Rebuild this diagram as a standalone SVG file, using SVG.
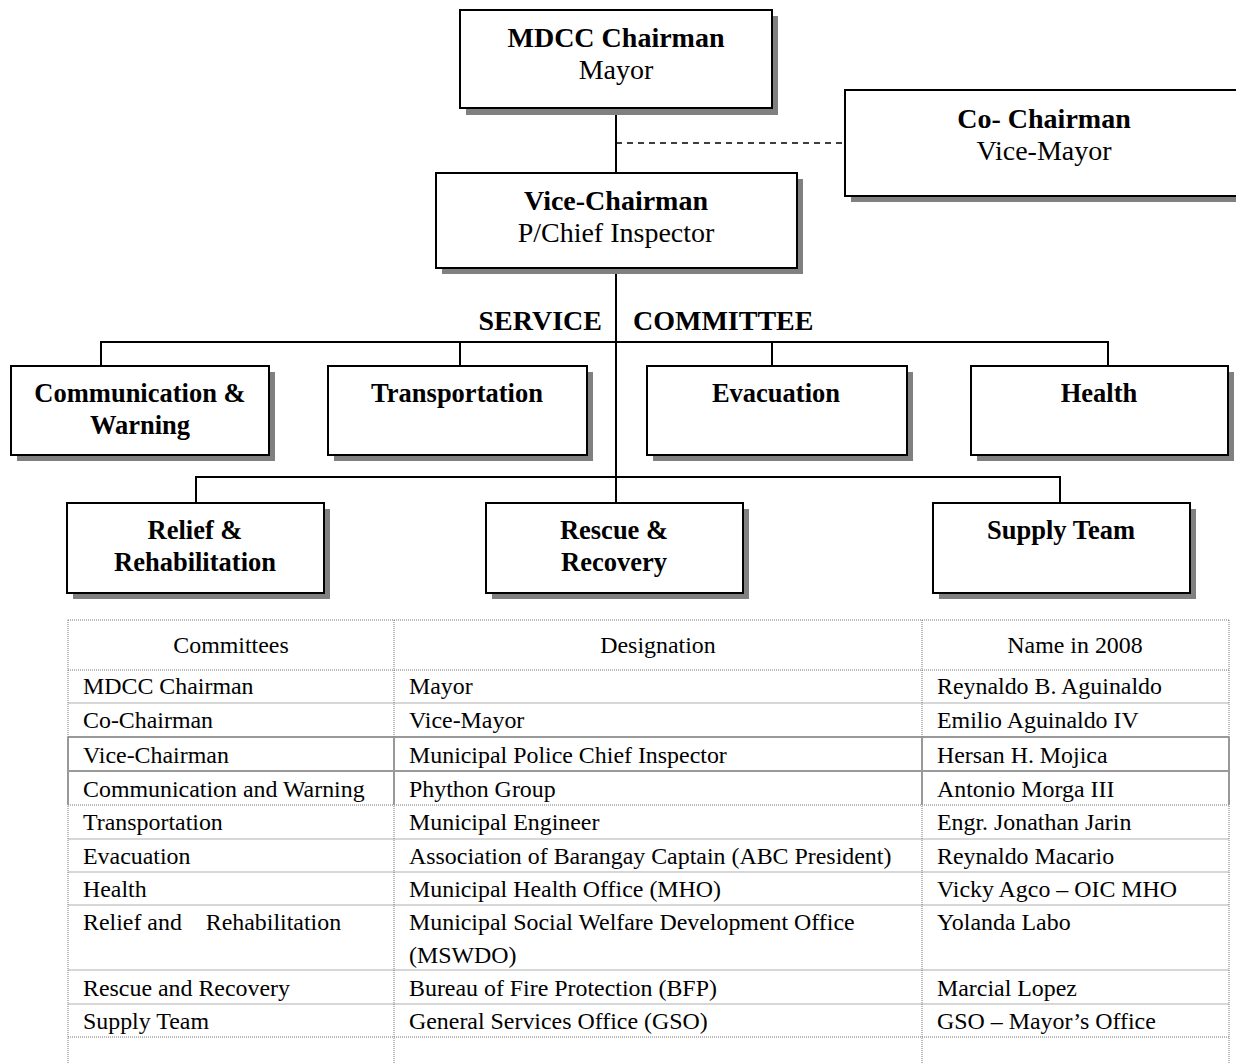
<svg xmlns="http://www.w3.org/2000/svg" width="1236" height="1063" viewBox="0 0 1236 1063">
<style>
.shadow{fill:#808080;stroke:none}
.box{fill:#fff;stroke:#000;stroke-width:2}
.t{font-family:"Liberation Serif","Times New Roman",serif;fill:#000;text-anchor:middle}
.b{font-weight:bold}
.big{font-size:28px}
.mid{font-size:26.5px}
.conn{stroke:#000;stroke-width:2;fill:none}
.dash{stroke:#000;stroke-width:1.5;stroke-dasharray:6 5;fill:none}
.cell{font-family:"Liberation Serif","Times New Roman",serif;font-size:23.9px;fill:#000}
.dot{stroke:#777;stroke-width:1;stroke-dasharray:1 1;fill:none}
.sol{stroke:#b0b0b0;stroke-width:1.2;fill:none}
.sol2{stroke:#999;stroke-width:2;fill:none}
</style>
<rect width="1236" height="1063" fill="#fff"/>
<g id="connectors">
<line class="conn" x1="616" y1="108" x2="616" y2="503"/>
<line class="dash" x1="616" y1="143" x2="845" y2="143"/>
<polyline class="conn" points="101,366 101,342 1108,342 1108,366"/>
<line class="conn" x1="460" y1="342" x2="460" y2="366"/>
<line class="conn" x1="772" y1="342" x2="772" y2="366"/>
<polyline class="conn" points="196,503 196,477 1060,477 1060,503"/>
</g>
<g id="mdcc-chairman">
<rect class="shadow" x="466" y="16" width="312" height="99"/>
<rect class="box" x="460" y="10" width="312" height="98"/>
<text class="t b big" x="616" y="47">MDCC Chairman</text>
<text class="t big" x="616" y="79">Mayor</text>
</g>
<g id="co-chairman">
<rect class="shadow" x="851" y="96" width="400" height="106"/>
<rect class="box" x="845" y="90" width="400" height="106"/>
<text class="t b big" x="1044" y="128">Co- Chairman</text>
<text class="t big" x="1044" y="160">Vice-Mayor</text>
</g>
<g id="vice-chairman">
<rect class="shadow" x="442" y="179" width="361" height="95"/>
<rect class="box" x="436" y="173" width="361" height="95"/>
<text class="t b big" x="616" y="210">Vice-Chairman</text>
<text class="t big" x="616" y="242">P/Chief Inspector</text>
</g>
<g id="service-committee-label">
<text class="t b big" x="602" y="330" style="text-anchor:end">SERVICE</text>
<text class="t b big" x="633" y="330" style="text-anchor:start">COMMITTEE</text>
</g>
<g id="communication-warning">
<rect class="shadow" x="17" y="372" width="258" height="89"/>
<rect class="box" x="11" y="366" width="258" height="89"/>
<text class="t b mid" x="140" y="402">Communication &amp;</text>
<text class="t b mid" x="140" y="434">Warning</text>
</g>
<g id="transportation">
<rect class="shadow" x="334" y="372" width="259" height="89"/>
<rect class="box" x="328" y="366" width="259" height="89"/>
<text class="t b mid" x="457" y="402">Transportation</text>
</g>
<g id="evacuation">
<rect class="shadow" x="653" y="372" width="260" height="89"/>
<rect class="box" x="647" y="366" width="260" height="89"/>
<text class="t b mid" x="776" y="402">Evacuation</text>
</g>
<g id="health">
<rect class="shadow" x="977" y="372" width="257" height="89"/>
<rect class="box" x="971" y="366" width="257" height="89"/>
<text class="t b mid" x="1099" y="402">Health</text>
</g>
<g id="relief-rehabilitation">
<rect class="shadow" x="73" y="509" width="257" height="90"/>
<rect class="box" x="67" y="503" width="257" height="90"/>
<text class="t b mid" x="195" y="539">Relief &amp;</text>
<text class="t b mid" x="195" y="571">Rehabilitation</text>
</g>
<g id="rescue-recovery">
<rect class="shadow" x="492" y="509" width="257" height="90"/>
<rect class="box" x="486" y="503" width="257" height="90"/>
<text class="t b mid" x="614" y="539">Rescue &amp;</text>
<text class="t b mid" x="614" y="571">Recovery</text>
</g>
<g id="supply-team">
<rect class="shadow" x="939" y="509" width="257" height="90"/>
<rect class="box" x="933" y="503" width="257" height="90"/>
<text class="t b mid" x="1061" y="539">Supply Team</text>
</g>
<g id="table">
<g id="grid">
<line class="dot" x1="68" y1="620" x2="1229" y2="620"/>
<line class="dot" x1="68" y1="670" x2="1229" y2="670"/>
<line class="sol" x1="68" y1="703" x2="1229" y2="703"/>
<line class="sol2" x1="68" y1="737" x2="1229" y2="737"/>
<line class="sol2" x1="68" y1="771" x2="1229" y2="771"/>
<line class="dot" x1="68" y1="805" x2="1229" y2="805"/>
<line class="sol" x1="68" y1="839" x2="1229" y2="839"/>
<line class="sol" x1="68" y1="872" x2="1229" y2="872"/>
<line class="sol" x1="68" y1="905" x2="1229" y2="905"/>
<line class="sol" x1="68" y1="970" x2="1229" y2="970"/>
<line class="sol" x1="68" y1="1004" x2="1229" y2="1004"/>
<line class="dot" x1="68" y1="1037" x2="1229" y2="1037"/>
<line class="dot" x1="68" y1="620" x2="68" y2="1063"/>
<line class="dot" x1="394" y1="620" x2="394" y2="1063"/>
<line class="dot" x1="922" y1="620" x2="922" y2="1063"/>
<line class="dot" x1="1229" y1="620" x2="1229" y2="1063"/>
<line class="sol2" x1="68" y1="737" x2="68" y2="805"/>
<line class="sol2" x1="394" y1="737" x2="394" y2="805"/>
<line class="sol2" x1="922" y1="737" x2="922" y2="805"/>
<line class="sol2" x1="1229" y1="737" x2="1229" y2="805"/>
</g>
<g id="cells">
<text class="cell" x="231" y="653" text-anchor="middle">Committees</text>
<text class="cell" x="658" y="653" text-anchor="middle">Designation</text>
<text class="cell" x="1075" y="653" text-anchor="middle">Name in 2008</text>
<text class="cell" x="83" y="694">MDCC Chairman</text>
<text class="cell" x="409" y="694">Mayor</text>
<text class="cell" x="937" y="694">Reynaldo B. Aguinaldo</text>
<text class="cell" x="83" y="728">Co-Chairman</text>
<text class="cell" x="409" y="728">Vice-Mayor</text>
<text class="cell" x="937" y="728">Emilio Aguinaldo IV</text>
<text class="cell" x="83" y="763">Vice-Chairman</text>
<text class="cell" x="409" y="763">Municipal Police Chief Inspector</text>
<text class="cell" x="937" y="763">Hersan H. Mojica</text>
<text class="cell" x="83" y="797">Communication and Warning</text>
<text class="cell" x="409" y="797">Phython Group</text>
<text class="cell" x="937" y="797">Antonio Morga III</text>
<text class="cell" x="83" y="830">Transportation</text>
<text class="cell" x="409" y="830">Municipal Engineer</text>
<text class="cell" x="937" y="830">Engr. Jonathan Jarin</text>
<text class="cell" x="83" y="864">Evacuation</text>
<text class="cell" x="409" y="864">Association of Barangay Captain (ABC President)</text>
<text class="cell" x="937" y="864">Reynaldo Macario</text>
<text class="cell" x="83" y="897">Health</text>
<text class="cell" x="409" y="897">Municipal Health Office (MHO)</text>
<text class="cell" x="937" y="897">Vicky Agco – OIC MHO</text>
<text class="cell" x="83" y="930" xml:space="preserve">Relief and    Rehabilitation</text>
<text class="cell" x="409" y="930">Municipal Social Welfare Development Office</text>
<text class="cell" x="409" y="963">(MSWDO)</text>
<text class="cell" x="937" y="930">Yolanda Labo</text>
<text class="cell" x="83" y="996">Rescue and Recovery</text>
<text class="cell" x="409" y="996">Bureau of Fire Protection (BFP)</text>
<text class="cell" x="937" y="996">Marcial Lopez</text>
<text class="cell" x="83" y="1029">Supply Team</text>
<text class="cell" x="409" y="1029">General Services Office (GSO)</text>
<text class="cell" x="937" y="1029">GSO – Mayor’s Office</text>
</g>
</g>
</svg>
